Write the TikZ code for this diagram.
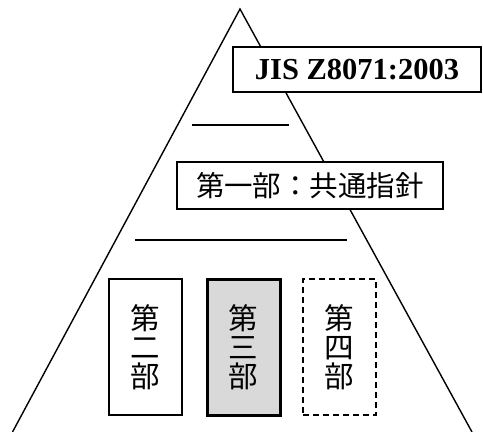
\documentclass[tikz,border=0pt]{standalone}
\usepackage{fontspec}
\setmainfont{Liberation Serif}
\newfontfamily\cjk{Noto Sans CJK JP}
\begin{document}
\begin{tikzpicture}[x=1pt,y=-1pt,
  outline/.style={draw=black,line width=1.2pt,fill=white,inner sep=0pt},
  vbox/.style={outline,minimum width=73pt,minimum height=136pt,align=center,font=\cjk\fontsize{29.5}{29}\selectfont},
  rule/.style={line width=1.2pt}]
\useasboundingbox (0,0) rectangle (483,432);
\coordinate (apex) at (240,9);
\coordinate (bl) at (12.5,432);
\coordinate (br) at (472,432);
\begin{scope}
\clip (0,0) rectangle (483,432);
\draw[line width=1.4pt] (bl) -- (apex) -- (br);
\end{scope}
\node[outline,minimum width=248pt,minimum height=45pt,font=\bfseries\fontsize{30.5}{32}\selectfont] (jis) at (357,69.5) {JIS Z8071:2003};
\coordinate (l1a) at (192,125);
\coordinate (l1b) at (289,125);
\draw[rule] (l1a) -- (l1b);
\node[outline,minimum width=266pt,minimum height=47pt,font=\cjk\fontsize{28.5}{30}\selectfont] (p1) at (310,185.5) {第一部：共通指針};
\coordinate (l2a) at (135,240);
\coordinate (l2b) at (347,240);
\draw[rule] (l2a) -- (l2b);
\node[vbox] (p2) at (145.5,347) {第\\二\\部};
\node[vbox,line width=3pt,fill=black!15] (p3) at (243.5,347) {第\\三\\部};
\node[vbox,dashed,dash pattern=on 6pt off 4pt] (p4) at (339.5,347) {第\\四\\部};
\end{tikzpicture}
\end{document}
